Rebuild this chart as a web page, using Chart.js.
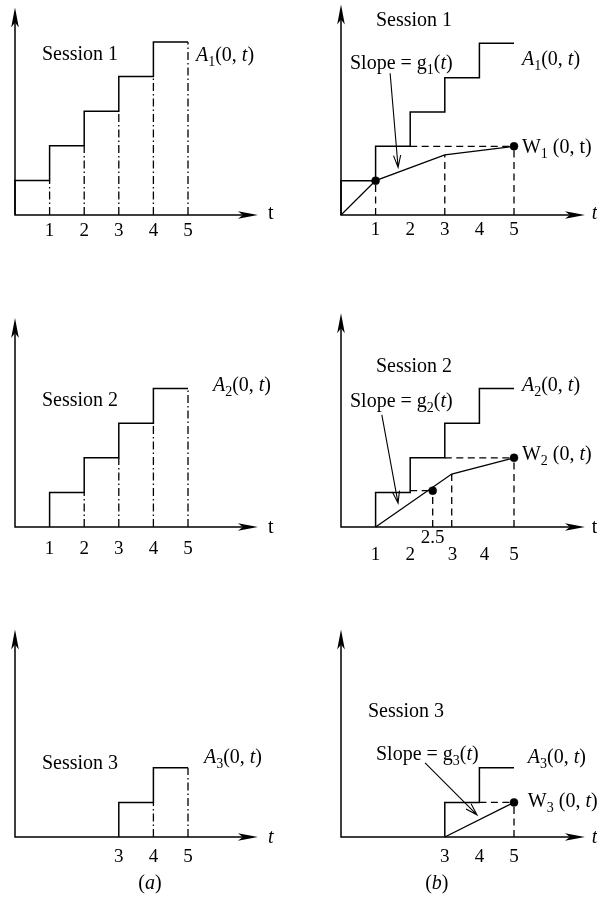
<!DOCTYPE html>
<html>
<head>
<meta charset="utf-8">
<script src="https://cdn.jsdelivr.net/npm/chart.js@4.4.1/dist/chart.umd.min.js"></script>
<style>
  body { margin: 0; background: #fff; width: 597px; height: 904px; position: relative; overflow: hidden; }
  canvas { position: absolute; }
</style>
</head>
<body>
<canvas id="p1a"></canvas><canvas id="p1b"></canvas>
<canvas id="p2a"></canvas><canvas id="p2b"></canvas>
<canvas id="p3a"></canvas><canvas id="p3b"></canvas>
<script>
// Nivel de A(0,t) em cada intervalo [t, t+1)
const tSteps = [0, 1, 2, 3, 4, 5];
const a1Levels = [1, 2, 3, 4, 5];
const a2Levels = [0, 1, 2, 3, 4];
const a3Levels = [0, 0, 0, 1, 2];

// Vertices de W(0,t) e pontos marcados
const w1Pts = [[0, 0], [1, 1], [3, 1.75], [5, 2]];
const w1Dots = [[1, 1], [5, 2]];
const w2Pts = [[1, 0], [3.2, 1.53], [5, 2]];
const w2Dots = [[2.65, 1.05], [5, 2]];
const w3Pts = [[3, 0], [5, 1]];
const w3Dots = [[5, 1]];

// Rotulos do eixo t
const ticks15 = ['1', '2', '3', '4', '5'];
const tickPos15 = [1, 2, 3, 4, 5];
const tickPos2b = [1, 2, 3.22, 4.15, 5];
const ticks35 = ['3', '4', '5'];
const tickPos35 = [3, 4, 5];

const U = 34.6; // pixels por unidade
const FONT = '"Liberation Serif", "Times New Roman", serif';

function stairPts(levels) {
    const pts = [];
    let prev = 0;
    levels.forEach((lv, i) => {
        if (lv === 0 && prev === 0) return;
        pts.push({x: tSteps[i], y: prev}, {x: tSteps[i], y: lv}, {x: tSteps[i + 1], y: lv});
        prev = lv;
    });
    return pts;
}

function dashDotPts(levels) {
    const pts = [];
    levels.forEach((lv, i) => {
        if (lv > 0) pts.push({x: tSteps[i + 1], y: 0}, {x: tSteps[i + 1], y: lv}, {x: tSteps[i + 1], y: null});
    });
    return pts;
}

function linePts(arr) {
    return arr.map(([x, y]) => ({x, y}));
}

function guidePts(wPts, dots, levels) {
    const pts = [];
    const seen = {};
    wPts.slice(1).concat(dots).forEach(([x, y]) => {
        if (seen[x]) return;
        seen[x] = true;
        pts.push({x, y: 0}, {x, y}, {x, y: null});
    });
    dots.forEach(([x, y]) => {
        const i = levels.lastIndexOf(Math.round(y));
        const fim = tSteps[i + 1];
        if (i >= 0 && x > fim) pts.push({x: fim, y}, {x, y}, {x, y: null});
    });
    return pts;
}

const solid = (data, w) => ({data, showLine: true, borderColor: '#000', borderWidth: w || 1.5, pointRadius: 0, spanGaps: false, clip: false});
const dashDot = data => Object.assign(solid(data, 1.3), {borderDash: [8, 3, 1.5, 3]});
const dashed = data => Object.assign(solid(data, 1.3), {borderDash: [7, 4.5]});
const dotSet = data => ({data: linePts(data), showLine: false, pointRadius: 4, pointBackgroundColor: '#000', pointBorderColor: '#000', pointBorderWidth: 0.5, clip: false});

function drawRuns(ctx, x, y, runs, size, align) {
    const fonte = (r) => (r[1] ? 'italic ' : '') + (r[2] ? size * 0.7 : size) + 'px ' + FONT;
    if (align === 'center') {
        let w = 0;
        runs.forEach(r => { ctx.font = fonte(r); w += ctx.measureText(r[0]).width; });
        x -= w / 2;
    }
    runs.forEach(r => {
        ctx.font = fonte(r);
        ctx.fillText(r[0], x, r[2] ? y + size * 0.25 : y);
        x += ctx.measureText(r[0]).width;
    });
}

function axisHead(ctx, tx, ty, dx, dy) {
    const nx = -dy, ny = dx;
    ctx.beginPath();
    ctx.moveTo(tx, ty);
    ctx.lineTo(tx - dx * 20 + nx * 3.8, ty - dy * 20 + ny * 3.8);
    ctx.lineTo(tx - dx * 15, ty - dy * 15);
    ctx.lineTo(tx - dx * 20 - nx * 3.8, ty - dy * 20 - ny * 3.8);
    ctx.closePath();
    ctx.fill();
}

const decor = {
    id: 'decor',
    beforeDatasetsDraw(chart) {
        const ctx = chart.ctx, xs = chart.scales.x, ys = chart.scales.y;
        const ox = xs.getPixelForValue(0), oy = ys.getPixelForValue(0);
        const xt = xs.getPixelForValue(xs.max), yt = ys.getPixelForValue(ys.max);
        ctx.save();
        ctx.strokeStyle = '#000';
        ctx.fillStyle = '#000';
        ctx.lineWidth = 1.5;
        ctx.beginPath();
        ctx.moveTo(xt - 14, oy);
        ctx.lineTo(ox, oy);
        ctx.lineTo(ox, yt + 14);
        ctx.stroke();
        axisHead(ctx, xt, oy, 1, 0);
        axisHead(ctx, ox, yt, 0, -1);
        ctx.restore();
    },
    afterDatasetsDraw(chart, args, o) {
        const ctx = chart.ctx, xs = chart.scales.x, ys = chart.scales.y;
        const oy = ys.getPixelForValue(0);
        ctx.save();
        ctx.fillStyle = '#000';
        ctx.strokeStyle = '#000';
        ctx.textBaseline = 'alphabetic';
        // rotulos dos ticks
        o.tickPos.forEach((v, i) => {
            drawRuns(ctx, xs.getPixelForValue(v), oy + o.tickGap, [[o.ticks[i]]], 19, 'center');
        });
        // textos
        o.texts.forEach(t => {
            drawRuns(ctx, xs.getPixelForValue(t.x), ys.getPixelForValue(t.y), t.runs, t.size || 20, t.align);
        });
        // setas "Slope"
        (o.arrows || []).forEach(([x0, y0, x1, y1]) => {
            const px0 = xs.getPixelForValue(x0), py0 = ys.getPixelForValue(y0);
            const px1 = xs.getPixelForValue(x1), py1 = ys.getPixelForValue(y1);
            const len = Math.hypot(px1 - px0, py1 - py0);
            const dx = (px1 - px0) / len, dy = (py1 - py0) / len;
            ctx.lineWidth = 1.1;
            ctx.beginPath();
            ctx.moveTo(px0, py0);
            ctx.lineTo(px1, py1);
            ctx.moveTo(px1 - dx * 12 - dy * 3.6, py1 - dy * 12 + dx * 3.6);
            ctx.lineTo(px1, py1);
            ctx.lineTo(px1 - dx * 12 + dy * 3.6, py1 - dy * 12 - dx * 3.6);
            ctx.stroke();
        });
        ctx.restore();
    }
};

function montarPainel(id, cell, ox, oy, xMax, yMax, datasets, deco) {
    const cv = document.getElementById(id);
    cv.width = cell.w;
    cv.height = cell.h;
    cv.style.left = cell.l + 'px';
    cv.style.top = cell.t + 'px';
    new Chart(cv, {
        type: 'scatter',
        data: {datasets},
        options: {
            responsive: false,
            animation: false,
            events: [],
            layout: {
                padding: {
                    left: ox - cell.l,
                    right: cell.l + cell.w - ox - xMax * U,
                    top: oy - yMax * U - cell.t,
                    bottom: cell.t + cell.h - oy
                }
            },
            scales: {
                x: {type: 'linear', display: false, min: 0, max: xMax},
                y: {type: 'linear', display: false, min: 0, max: yMax}
            },
            plugins: {legend: {display: false}, tooltip: {enabled: false}, decor: deco}
        },
        plugins: [decor]
    });
}

const A = n => [['A', 1], [n, 0, 1], ['(0, '], ['t', 1], [')']];
const W = (n, it) => it ? [['W'], [n, 0, 1], [' (0, '], ['t', 1], [')']] : [['W'], [n, 0, 1], [' (0, t)']];
const S = n => [['Slope = g'], [n, 0, 1], ['('], ['t', 1], [')']];

const colA = {l: 0, w: 298}, colB = {l: 298, w: 299};
const cel = (c, t, h) => ({l: c.l, w: c.w, t, h});

// Linha 1
montarPainel('p1a', cel(colA, 0, 300), 15, 215, 7.02, 6.0,
    [solid(stairPts(a1Levels)), dashDot(dashDotPts(a1Levels))],
    {ticks: ticks15, tickPos: tickPos15, tickGap: 21, texts: [
        {x: 0.78, y: 4.48, runs: [['Session 1']]},
        {x: 5.23, y: 4.45, runs: A('1')},
        {x: 7.31, y: -0.12, runs: [['t']]}
    ]});

montarPainel('p1b', cel(colB, 0, 300), 341, 215, 7.05, 6.13,
    [solid(stairPts(a1Levels)), solid(linePts(w1Pts), 1.3), dashed(guidePts(w1Pts, w1Dots, a1Levels)), dotSet(w1Dots)],
    {ticks: ticks15, tickPos: tickPos15, tickGap: 20, texts: [
        {x: 1.01, y: 5.49, runs: [['Session 1']]},
        {x: 0.26, y: 4.25, runs: S('1')},
        {x: 5.23, y: 4.36, runs: A('1')},
        {x: 5.23, y: 1.82, runs: W('1', false)},
        {x: 7.25, y: -0.12, runs: [['t', 1]]}
    ], arrows: [[1.42, 4.13, 1.65, 1.39]]});

// Linha 2
montarPainel('p2a', cel(colA, 300, 320), 15, 527, 7.02, 6.04,
    [solid(stairPts(a2Levels)), dashDot(dashDotPts(a2Levels))],
    {ticks: ticks15, tickPos: tickPos15, tickGap: 27, texts: [
        {x: 0.78, y: 3.50, runs: [['Session 2']]},
        {x: 5.72, y: 3.93, runs: A('2')},
        {x: 7.31, y: -0.17, runs: [['t']]}
    ]});

montarPainel('p2b', cel(colB, 300, 320), 341, 527, 7.05, 6.18,
    [solid(stairPts(a2Levels)), solid(linePts(w2Pts), 1.3), dashed(guidePts(w2Pts, w2Dots, a2Levels)), dotSet(w2Dots)],
    {ticks: ticks15, tickPos: tickPos2b, tickGap: 33, texts: [
        {x: 1.01, y: 4.48, runs: [['Session 2']]},
        {x: 0.26, y: 3.47, runs: S('2')},
        {x: 5.23, y: 3.93, runs: A('2')},
        {x: 5.23, y: 1.94, runs: W('2', true)},
        {x: 2.65, y: -0.46, runs: [['2.5']], size: 19, align: 'center'},
        {x: 7.25, y: -0.17, runs: [['t']]}
    ], arrows: [[1.18, 3.24, 1.65, 0.69]]});

// Linha 3
montarPainel('p3a', cel(colA, 620, 284), 15, 837, 7.02, 6.0,
    [solid(stairPts(a3Levels)), dashDot(dashDotPts(a3Levels))],
    {ticks: ticks35, tickPos: tickPos35, tickGap: 25, texts: [
        {x: 0.78, y: 1.97, runs: [['Session 3']]},
        {x: 5.46, y: 2.14, runs: A('3')},
        {x: 7.31, y: -0.17, runs: [['t', 1]]},
        {x: 3.9, y: -1.5, runs: [['('], ['a', 1], [')']], align: 'center'}
    ]});

montarPainel('p3b', cel(colB, 620, 284), 341, 837, 7.05, 6.0,
    [solid(stairPts(a3Levels)), solid(linePts(w3Pts), 1.3), dashed(guidePts(w3Pts, w3Dots, a3Levels)), dotSet(w3Dots)],
    {ticks: ticks35, tickPos: tickPos35, tickGap: 25, texts: [
        {x: 0.78, y: 3.47, runs: [['Session 3']]},
        {x: 1.01, y: 2.23, runs: S('3')},
        {x: 5.40, y: 2.14, runs: A('3')},
        {x: 5.40, y: 0.87, runs: W('3', true)},
        {x: 7.25, y: -0.17, runs: [['t', 1]]},
        {x: 2.77, y: -1.5, runs: [['('], ['b', 1], [')']], align: 'center'}
    ], arrows: [[2.43, 2.14, 3.93, 0.64]]});
</script>
</body>
</html>
